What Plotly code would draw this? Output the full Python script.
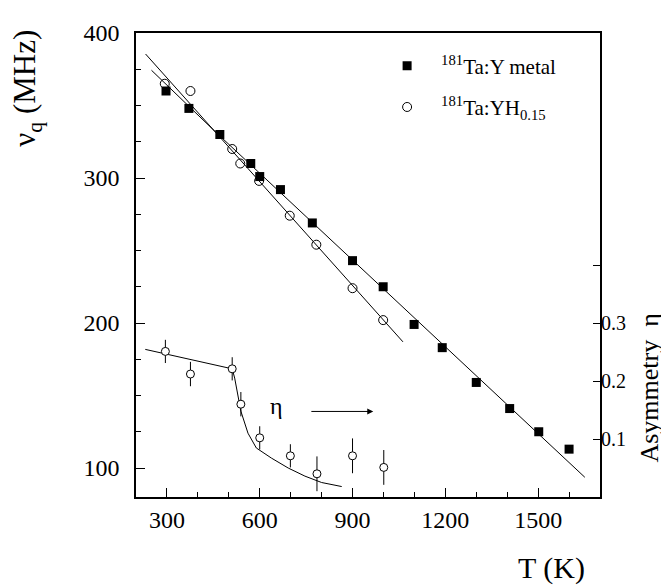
import plotly.graph_objects as go

# --- data ---
metal_T = [297, 371, 471, 571, 600, 667, 770, 900, 999, 1099, 1190, 1300, 1408, 1502, 1600]
metal_nu = [360, 348, 330, 310, 301, 292, 269, 243, 225, 199, 183, 159, 141, 125, 113]

yh_T = [293, 376, 511, 537, 598, 697, 783, 900, 999]
yh_nu = [365, 360, 320, 310, 298, 274, 254, 224, 202]

metal_fit_T = [250, 455, 1651]
metal_fit_nu = [374.3, 332.2, 93.6]
yh_fit_T = [231, 1063]
yh_fit_nu = [385.5, 187.0]

eta_T = [295, 376, 511, 539, 600, 699, 785, 900, 1001]
eta = [0.251, 0.212, 0.221, 0.160, 0.102, 0.071, 0.040, 0.071, 0.051]
eta_err = [0.020, 0.021, 0.020, 0.021, 0.020, 0.020, 0.030, 0.030, 0.030]

eta_fit_T = [230, 511, 519, 539, 562, 589, 638, 692, 746, 800, 865]
eta_fit = [0.2545, 0.221, 0.205, 0.148, 0.110, 0.0845, 0.067, 0.050, 0.036, 0.025, 0.018]

x_ticks = [300, 600, 900, 1200, 1500]
y_ticks = [100, 200, 300, 400]
y2_ticks = [0.1, 0.2, 0.3, 0.4]
y2_labels = ["0.1", "0.2", "0.3", ""]

FONT = "Times New Roman, Liberation Serif, serif"

fig = go.Figure()

fig.add_trace(go.Scatter(x=metal_fit_T, y=metal_fit_nu, mode="lines",
                         line=dict(color="black", width=1), showlegend=False, hoverinfo="skip"))
fig.add_trace(go.Scatter(x=yh_fit_T, y=yh_fit_nu, mode="lines",
                         line=dict(color="black", width=1), showlegend=False, hoverinfo="skip"))
fig.add_trace(go.Scatter(x=metal_T, y=metal_nu, mode="markers",
                         marker=dict(symbol="square", size=9, color="black"),
                         name="<sup>181</sup>Ta:Y metal", legendgroup="a"))
fig.add_trace(go.Scatter(x=yh_T, y=yh_nu, mode="markers",
                         marker=dict(symbol="circle-open", size=9, color="black", line=dict(width=1)),
                         name="<sup>181</sup>Ta:YH<sub>0.15</sub>", legendgroup="b"))

fig.add_trace(go.Scatter(x=eta_fit_T, y=eta_fit, mode="lines", yaxis="y2",
                         line=dict(color="black", width=1), showlegend=False, hoverinfo="skip"))
fig.add_trace(go.Scatter(x=eta_T, y=eta, mode="markers", yaxis="y2",
                         marker=dict(symbol="circle", size=8, color="white", line=dict(width=1, color="black")),
                         error_y=dict(type="data", array=eta_err, width=0, thickness=1, color="black"),
                         showlegend=False))

fig.update_layout(
    width=669, height=587,
    margin=dict(l=128, r=77, t=25, b=98),
    paper_bgcolor="white", plot_bgcolor="white",
    font=dict(family=FONT, color="black", size=24),
    xaxis=dict(range=[200, 1700], tickvals=x_ticks, ticks="inside", ticklen=9, tickwidth=1.2,
               tickcolor="black", showline=True, linecolor="black", linewidth=1.5, mirror=True,
               showgrid=False, zeroline=False, ticklabelstandoff=0,
               tickfont=dict(size=24, family=FONT),
               minor=dict(dtick=100, tick0=200, ticks="inside", ticklen=5, tickcolor="black", tickwidth=1.2,
                          showgrid=False)),
    yaxis=dict(range=[80, 400], tickvals=y_ticks, ticks="inside", ticklen=9, tickwidth=1.2,
               tickcolor="black", showline=True, linecolor="black", linewidth=1.5, mirror=True,
               showgrid=False, zeroline=False, ticklabelstandoff=10,
               tickfont=dict(size=24, family=FONT),
               minor=dict(dtick=25, tick0=0, ticks="inside", ticklen=5, tickcolor="black", tickwidth=1.2,
                          showgrid=False)),
    yaxis2=dict(overlaying="y", side="right", range=[0, 0.8], tickvals=y2_ticks, ticktext=y2_labels,
                ticks="inside", ticklen=7, tickwidth=1.2, tickcolor="black", showline=False,
                showgrid=False, zeroline=False, ticklabelstandoff=0,
                tickfont=dict(size=20, family=FONT)),
    legend=dict(x=0.511, y=0.973, xanchor="left", yanchor="top", bgcolor="rgba(0,0,0,0)",
                font=dict(size=21, family=FONT), itemwidth=58, tracegroupgap=11),
    showlegend=True,
)

fig.add_annotation(text="ν<sub>q</sub> (MHz)", xref="paper", yref="paper", x=-0.235, y=0.882,
                   textangle=-90, showarrow=False, font=dict(size=31, family=FONT),
                   xanchor="center", yanchor="middle")
fig.add_annotation(text="T (K)", xref="paper", yref="paper", x=0.895, y=-0.152,
                   showarrow=False, font=dict(size=30, family=FONT),
                   xanchor="center", yanchor="middle")
fig.add_annotation(text="Asymmetry\u00a0\u00a0η", xref="paper", yref="paper", x=1.107, y=0.235,
                   textangle=-90, showarrow=False, font=dict(size=26, family=FONT),
                   xanchor="center", yanchor="middle")
fig.add_annotation(text="η", x=655, y=143, xref="x", yref="y", showarrow=False,
                   font=dict(size=24, family=FONT))
fig.add_annotation(text="", x=967, y=139, ax=762, ay=139, xref="x", yref="y", axref="x", ayref="y",
                   showarrow=True, arrowhead=2, arrowsize=1.2, arrowwidth=1, arrowcolor="black")

fig.write_html("out.html")
